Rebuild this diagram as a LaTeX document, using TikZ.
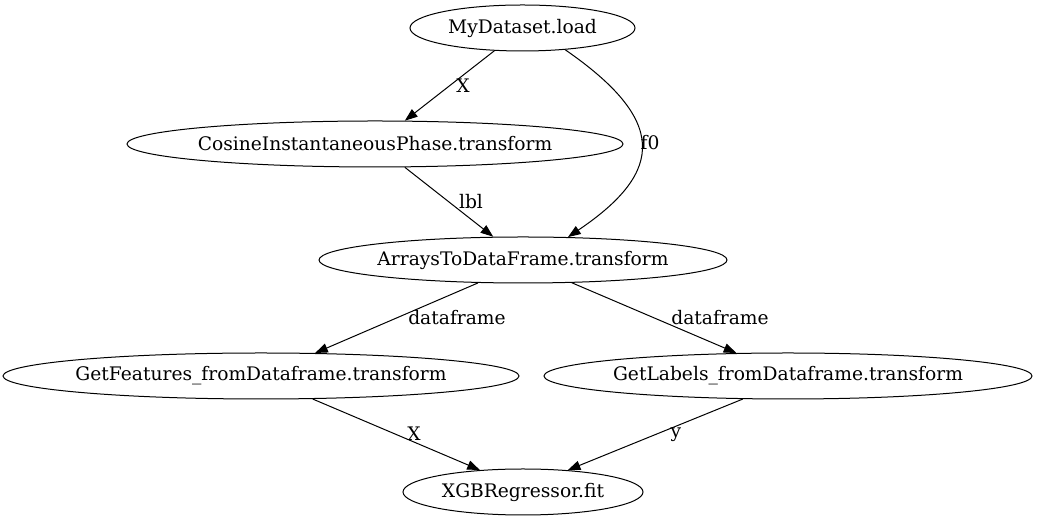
\documentclass[tikz,border=0pt]{standalone}
\usepackage{fontspec}
\setmainfont{DejaVu Serif}
\usetikzlibrary{shapes.geometric,arrows.meta}
\newcommand{\zw}[1]{\makebox[0pt][c]{#1}}
\begin{document}
\begin{tikzpicture}[x=0.75pt,y=0.75pt,
  every node/.style={font=\fontsize{14}{17}\selectfont},
  op/.style={ellipse,draw,line width=0.75pt,inner sep=0pt,minimum height=34.5pt},
  edge/.style={draw,line width=0.75pt,-{Triangle[length=9.5pt,width=7pt]}},
  lab/.style={inner sep=1pt}]
\useasboundingbox (0,0) rectangle (1037,523);
% nodes (x px, 523 - y px)
\node[op,minimum width=168.75pt] (m) at (522.5,495) {\zw{MyDataset.load}};
\node[op,minimum width=372pt] (c) at (375,379) {\zw{CosineInstantaneousPhase.transform}};
\node[op,minimum width=306pt] (a) at (523,263) {\zw{ArraysToDataFrame.transform}};
\node[op,minimum width=387pt] (f) at (261,147) {\zw{GetFeatures\_fromDataframe.transform}};
\node[op,minimum width=366pt] (l) at (788,147) {\zw{GetLabels\_fromDataframe.transform}};
\node[op,minimum width=180pt] (x) at (523,31) {\zw{XGBRegressor.fit}};
% edges
\draw[edge] (m.-141) -- (c.38.7);
\draw[edge] (m.-27.4) .. controls (666,403.5) and (666,352) .. (a.27.6);
\draw[edge] (c.-38.7) -- (a.142.5);
\draw[edge] (a.-153.4) -- (f.23.1);
\draw[edge] (a.-25.7) -- (l.156.5);
\draw[edge] (f.-24.8) -- (x.153.9);
\draw[edge] (l.-153.9) -- (x.26);
% labels
\node[lab] (lx1) at (463,437) {X};
\node[lab] (lf0) at (650,380) {f0};
\node[lab] (llbl) at (471,321) {lbl};
\node[lab] (ld1) at (457,205) {dataframe};
\node[lab] (ld2) at (720,205) {dataframe};
\node[lab] (lx2) at (414,89) {X};
\node[lab] (ly) at (676,88) {y};
\end{tikzpicture}
\end{document}
